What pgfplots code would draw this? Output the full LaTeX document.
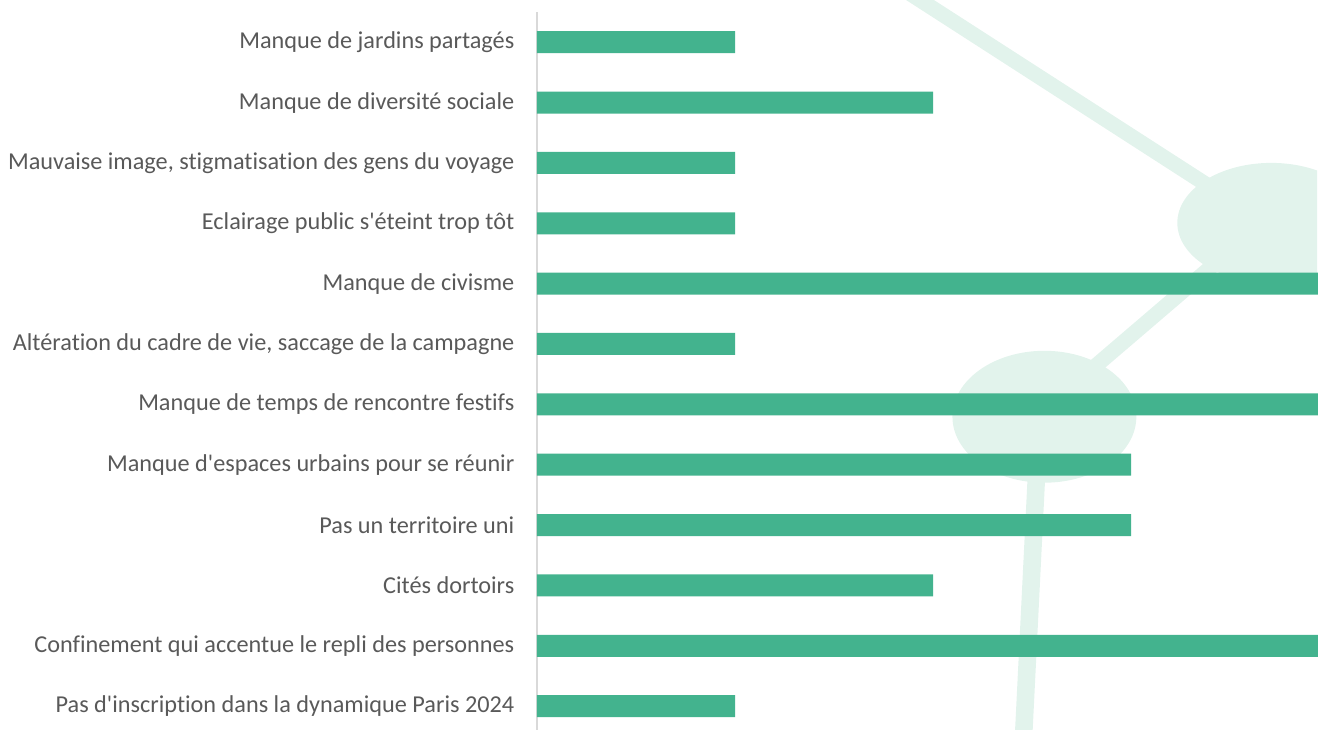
\documentclass[border=0pt]{standalone}
\usepackage{fontspec}
\setmainfont{Carlito}[Ligatures={NoCommon}]
\usepackage{pgfplots}
\pgfplotsset{compat=1.18}
\definecolor{barGreen}{HTML}{43B38E}
\definecolor{decoGreen}{HTML}{E2F3EC}
\definecolor{labelGray}{HTML}{595959}
\definecolor{axisGray}{HTML}{D9D9D9}
\newcommand{\ap}{\textquotesingle}

\begin{document}
\begin{tikzpicture}
% page frame, 1 px = 0.01cm
\path[use as bounding box] (0,0) rectangle (13.18cm,7.30cm);
% faint background motif
\begin{scope}[x=0.01cm, y=-0.01cm, shift={(0,7.30cm)}]
  \clip (0,0) rectangle (1318,730);
  \draw[decoGreen, line width=4.3pt] (905,-10) -- (1265,222);
  \draw[decoGreen, line width=4.3pt] (1240,243) -- (1045,410);
  \draw[decoGreen, line width=5pt] (1040,417) -- (1024,740);
  \fill[decoGreen] (1272,223) ellipse [x radius=94, y radius=60];
  \fill[decoGreen] (1045,417) ellipse [x radius=92, y radius=66];
\end{scope}
\begin{axis}[
  at={(5.37cm,0)}, anchor=south west,
  scale only axis,
  width=7.81cm, height=7.18cm,
  xbar, bar width=0.22cm,
  xmin=0, xmax=3.944,
  ymin=-0.5, ymax=11.395,
  y dir=reverse,
  axis x line=none,
  axis y line*=left,
  y axis line style={draw=axisGray, line width=0.6pt},
  major tick length=0pt,
  ytick={0,...,11},
  yticklabels={
    Manque de jardins partagés,
    Manque de diversité sociale,
    {Mauvaise image, stigmatisation des gens du voyage},
    Eclairage public s\ap éteint trop tôt,
    Manque de civisme,
    {Altération du cadre de vie, saccage de la campagne},
    Manque de temps de rencontre festifs,
    Manque d\ap espaces urbains pour se réunir,
    Pas un territoire uni,
    Cités dortoirs,
    Confinement qui accentue le repli des personnes,
    Pas d\ap inscription dans la dynamique Paris 2024},
  yticklabel style={font=\fontsize{6.9}{8}\selectfont, text=labelGray, inner sep=0pt, anchor=east},
  yticklabel shift=0.22cm,
]
\addplot[fill=barGreen, draw=none] coordinates {
  (1,0) (2,1) (1,2) (1,3) (4,4) (1,5)
  (4,6) (3,7) (3,8) (2,9) (4,10) (1,11)
};
\end{axis}
\end{tikzpicture}
\end{document}
